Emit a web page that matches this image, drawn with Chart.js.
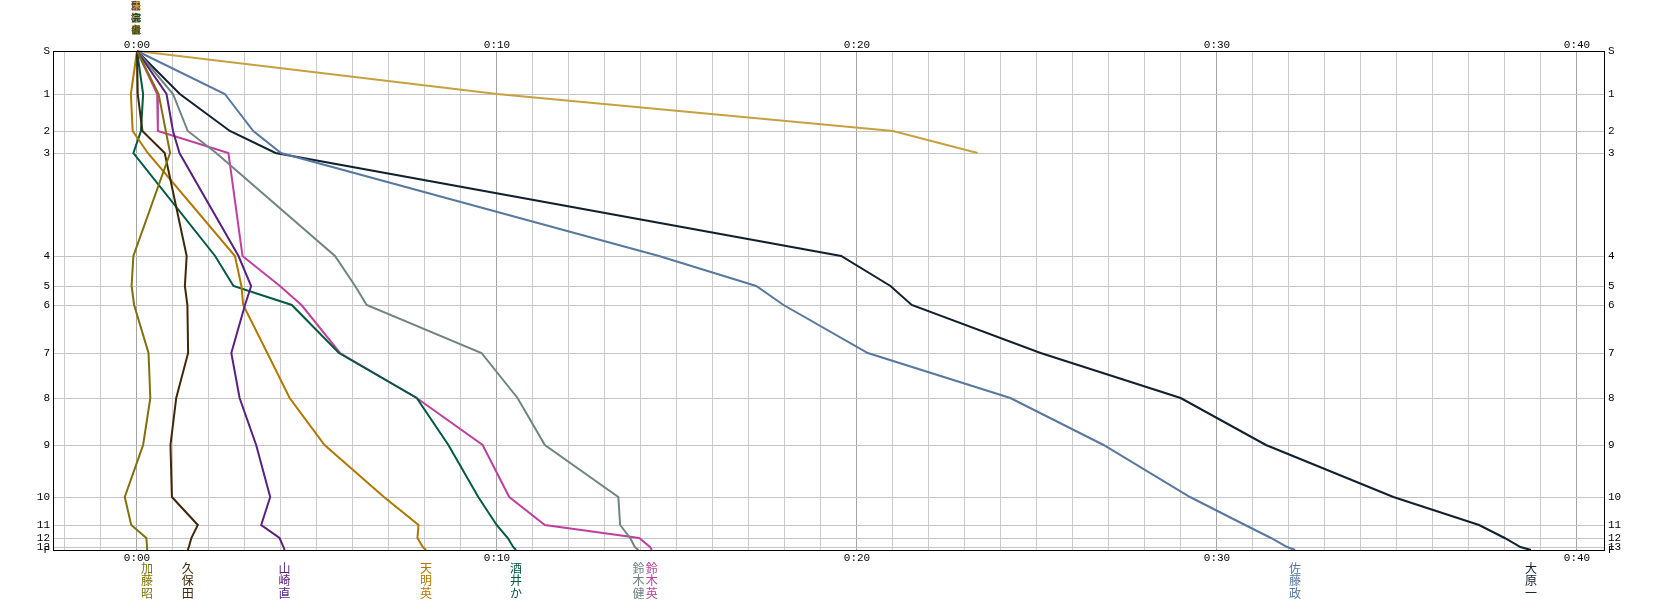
<!DOCTYPE html>
<html>
<head>
<meta charset="utf-8">
<script src="https://cdn.jsdelivr.net/npm/chart.js@4.4.1/dist/chart.umd.min.js"></script>
<style>
  body { margin: 0; background: #fff; }
  #wrap { width: 1657px; height: 600px; }
</style>
</head>
<body>
<div id="wrap"><canvas id="splitChart" width="1657" height="600"></canvas></div>
<script>
// controls and their position on the vertical axis (reference leg lengths)
const controls = ["S", "1", "2", "3", "4", "5", "6", "7", "8", "9", "10", "11", "12", "13", "F"];
const controlPos = [0, 43, 80, 102, 205, 235, 254, 302, 347, 394, 446, 474, 487, 496, 499];

// minutes behind the reference at each control
const katoAkira = [0, 0.6, 0.8, 0.92, -0.1, -0.15, -0.08, 0.32, 0.37, 0.17, -0.34, -0.16, 0.26, 0.28, 0.28];
const kubota = [0, 0.02, 0.15, 0.77, 1.38, 1.33, 1.4, 1.42, 1.09, 0.93, 0.97, 1.69, 1.51, 1.44, 1.41];
const yamazaki = [0, 0.82, 1.0, 1.18, 2.82, 3.17, 3.0, 2.62, 2.85, 3.31, 3.7, 3.45, 3.96, 4.07, 4.1];
const tenmei = [0, -0.17, -0.12, 0.3, 2.72, 2.9, 2.95, 3.62, 4.24, 5.21, 6.86, 7.82, 7.79, 7.94, 8.03];
const sakai = [0, 0.17, 0.11, -0.1, 2.17, 2.68, 4.3, 5.61, 7.77, 8.65, 9.48, 9.99, 10.3, 10.45, 10.53];
const suzukiKen = [0, 1.0, 1.41, 2.2, 5.5, 6.06, 6.38, 9.57, 10.57, 11.33, 13.37, 13.42, 13.7, 13.83, 13.93];
const suzukiEi = [0, 0.56, 0.58, 2.54, 2.93, 3.97, 4.57, 5.64, 7.77, 9.6, 10.34, 11.33, 13.95, 14.25, 14.3];
const satoMasa = [0, 2.44, 3.23, 4.0, 14.5, 17.2, 17.96, 20.3, 24.26, 26.85, 29.25, 30.78, 31.5, 31.95, 32.17];
const oharaHajime = [0, 1.19, 2.58, 3.85, 19.56, 20.93, 21.52, 25.1, 28.99, 31.36, 34.9, 37.28, 37.99, 38.43, 38.72];
const retired = [0, 10.0, 21.0, 23.35];

const runnerNames = ["加藤昭", "久保田", "山崎直", "天明英", "酒井か", "鈴木健", "鈴木英", "佐藤政", "大原一", ""];
const runnerTimes = [katoAkira, kubota, yamazaki, tenmei, sakai, suzukiKen, suzukiEi, satoMasa, oharaHajime, retired];
const runnerColors = ["#80700c", "#3e2808", "#5a2080", "#b07800", "#005a40", "#708484", "#c040a0", "#5878a0", "#10202e", "#c8a040"];

const timeTicks = [0, 10, 20, 30, 40];
const minuteGrid = [];
for (let m = -2; m <= 40; m++) minuteGrid.push(m);

const LABEL_FONT = "11px 'Liberation Mono', 'DejaVu Sans Mono', monospace";
const NAME_FONT = "12px 'Noto Sans CJK JP', sans-serif";

const fmt = (v) => `0:${String(v).padStart(2, "0")}`;

const labelsPlugin = {
  id: "splitLabels",
  afterDraw(chart) {
    const { ctx, chartArea } = chart;
    const xs = chart.scales.x;
    const ys = chart.scales.y;
    const { left, right, top, bottom } = chartArea;

    ctx.save();
    // frame
    ctx.strokeStyle = "#000";
    ctx.lineWidth = 1;
    ctx.strokeRect(left + 0.5, top + 0.5, right - left - 1, bottom - top);

    ctx.fillStyle = "#000";
    ctx.font = LABEL_FONT;
    ctx.textBaseline = "middle";
    ctx.textAlign = "center";
    timeTicks.forEach((v) => {
      const x = xs.getPixelForValue(v);
      ctx.fillText(fmt(v), x, top - 6);
      ctx.fillText(fmt(v), x, bottom + 8);
    });

    controls.forEach((c, i) => {
      const y = ys.getPixelForValue(controlPos[i]);
      ctx.textAlign = "right";
      ctx.fillText(c, left - 3, y);
      ctx.textAlign = "left";
      ctx.fillText(c, right + 3, y);
    });

    // runner names under the finish
    ctx.font = NAME_FONT;
    ctx.textAlign = "center";
    runnerNames.forEach((name, i) => {
      if (!name) return;
      const times = runnerTimes[i];
      const x = xs.getPixelForValue(times[times.length - 1]);
      ctx.fillStyle = runnerColors[i];
      [...name].forEach((ch, k) => {
        ctx.fillText(ch, x, bottom + 18 + k * 12.5);
      });
    });

    // overlapping names of retired runners above the start
    const sx = xs.getPixelForValue(0) - 1;
    const boxY = [6, 18, 30];
    const overlapText = ["棄権者", "失格者", "未完走"];
    const overlapColors = ["#706020", "#5a2080", "#c8a040", "#005a40"];
    ctx.font = "bold 9px 'Noto Sans CJK JP', sans-serif";
    boxY.forEach((y, k) => {
      ctx.fillStyle = "#6a5c24";
      ctx.fillRect(sx - 4, y - 4.5, 8, 9);
      overlapText.forEach((t, j) => {
        ctx.fillStyle = overlapColors[(j + k) % overlapColors.length];
        ctx.fillText([...t][k], sx + (j - 1) * 0.7, y);
      });
    });
    ctx.restore();
  },
};

const datasets = runnerTimes.map((times, i) => ({
  label: runnerNames[i] || "棄権",
  data: times.map((t, k) => ({ x: t, y: controlPos[k] })),
  borderColor: runnerColors[i],
  backgroundColor: runnerColors[i],
  borderWidth: 2,
  pointRadius: 0,
  showLine: true,
  tension: 0,
  clip: false,
}));

new Chart(document.getElementById("splitChart"), {
  type: "scatter",
  data: { datasets },
  options: {
    responsive: false,
    animation: false,
    layout: { padding: { left: 53, top: 51, right: 52, bottom: 50 } },
    plugins: {
      legend: { display: false },
      tooltip: { enabled: false },
    },
    scales: {
      x: {
        type: "linear",
        min: -2.3333,
        max: 40.7778,
        afterBuildTicks: (scale) => {
          scale.ticks = minuteGrid.map((v) => ({ value: v }));
        },
        ticks: { display: false },
        border: { display: false },
        grid: {
          drawTicks: false,
          lineWidth: 1,
          color: (c) => (c.tick && c.tick.value % 10 === 0 ? "#a4a4a4" : "#cccccc"),
        },
      },
      y: {
        type: "linear",
        reverse: true,
        min: 0,
        max: 499,
        afterBuildTicks: (scale) => {
          scale.ticks = controlPos.map((v) => ({ value: v }));
        },
        ticks: { display: false },
        border: { display: false },
        grid: { drawTicks: false, lineWidth: 1, color: "#c4c4c4" },
      },
    },
  },
  plugins: [labelsPlugin],
});
</script>
</body>
</html>
